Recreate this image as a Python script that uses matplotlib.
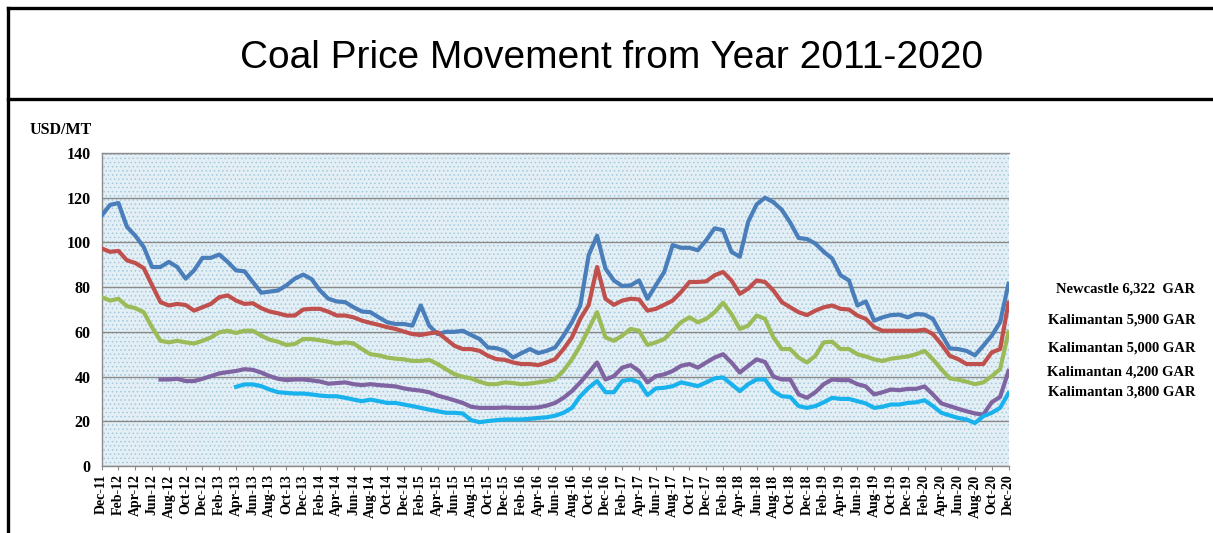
import numpy as np
import pandas as pd
import matplotlib
matplotlib.use("Agg")
import matplotlib.pyplot as plt
from matplotlib.lines import Line2D
from matplotlib.patches import Rectangle

# monthly categories Dec-11 .. Dec-20
months = pd.date_range("2011-12-01", "2020-12-01", freq="MS")
month_labels = [m.strftime("%b-%y") for m in months]

nan = np.nan

newcastle_6322 = [
    112.0, 116.8, 117.6, 107.0, 103.0, 98.0, 89.0, 89.0, 91.3, 89.0,
    83.8, 87.5, 93.1, 93.1, 94.6, 91.3, 87.5, 87.1, 82.3, 77.5,
    78.0, 78.5, 80.8, 83.8, 85.6, 83.6, 78.5, 74.8, 73.6, 73.3,
    71.0, 69.1, 68.8, 66.5, 64.3, 63.5, 63.5, 62.8, 71.8, 62.8,
    59.0, 60.0, 60.0, 60.5, 58.6, 56.8, 53.0, 52.7, 51.5, 48.5,
    50.5, 52.3, 50.5, 51.5, 53.0, 58.3, 64.3, 71.8, 94.3, 103.0,
    88.3, 83.0, 80.5, 80.8, 83.0, 74.8, 80.8, 86.8, 98.8, 97.6,
    97.6, 96.5, 101.0, 106.3, 105.5, 95.8, 93.6, 109.3, 117.0, 120.0,
    118.0, 114.6, 108.9, 102.0, 101.5, 99.5, 95.8, 92.8, 85.3, 83.0,
    71.8, 73.6, 65.0, 66.5, 67.5, 67.7, 66.5, 68.0, 67.7, 65.8,
    59.0, 52.6, 52.3, 51.5, 49.5, 53.8, 58.3, 64.3, 81.5,
]

kalimantan_5900 = [
    97.3, 95.8, 96.2, 92.0, 90.8, 88.5, 80.8, 73.3, 71.8, 72.5,
    72.0, 69.5, 71.0, 72.5, 75.5, 76.3, 74.0, 72.5, 72.8, 70.6,
    69.1, 68.3, 67.3, 67.3, 70.0, 70.3, 70.3, 69.0, 67.3, 67.3,
    66.5, 65.0, 64.0, 63.1, 62.1, 61.3, 60.1, 59.0, 58.6, 59.3,
    59.8, 56.8, 53.8, 52.3, 52.3, 51.5, 49.3, 47.8, 47.5, 46.3,
    45.6, 45.6, 45.1, 46.3, 47.8, 52.3, 57.5, 65.8, 72.0, 89.0,
    74.8, 72.1, 74.0, 74.8, 74.5, 69.5, 70.3, 72.1, 74.0, 77.8,
    82.3, 82.3, 82.6, 85.3, 86.8, 83.0, 77.0, 79.3, 83.0, 82.3,
    78.5, 73.3, 71.0, 68.8, 67.5, 69.5, 71.0, 71.8, 70.3, 70.0,
    67.3, 65.8, 62.1, 60.5, 60.5, 60.5, 60.5, 60.5, 61.0, 59.0,
    54.5, 49.3, 47.8, 45.6, 45.6, 45.6, 50.8, 52.3, 73.0,
]

kalimantan_5000 = [
    75.5, 74.0, 74.8, 71.5, 70.6, 68.8, 62.0, 56.0, 55.3, 56.0,
    55.3, 54.8, 56.0, 57.5, 59.8, 60.5, 59.5, 60.5, 60.5, 58.3,
    56.5, 55.6, 54.1, 54.6, 56.8, 56.8, 56.2, 55.6, 54.8, 55.3,
    54.8, 52.3, 50.0, 49.5, 48.5, 48.0, 47.7, 47.0, 47.0, 47.5,
    45.6, 43.3, 41.1, 39.9, 39.2, 37.7, 36.6, 36.6, 37.4, 37.1,
    36.6, 36.9, 37.4, 38.0, 38.9, 42.6, 47.7, 53.8, 61.3, 68.8,
    57.5, 56.0, 58.3, 61.3, 60.5, 54.1, 55.3, 56.8, 60.5, 64.3,
    66.5, 64.3, 65.8, 68.8, 73.0, 68.0, 61.3, 62.8, 67.3, 65.8,
    57.5, 52.3, 52.3, 48.5, 46.3, 49.3, 55.3, 55.6, 52.3, 52.3,
    50.0, 49.0, 47.7, 47.0, 48.0, 48.5, 49.0, 50.0, 51.5, 47.7,
    43.3, 39.2, 38.6, 37.7, 36.6, 37.4, 40.2, 43.3, 60.0,
]

kalimantan_4200 = [
    nan, nan, nan, nan, nan, nan, nan, 38.7, 38.7, 39.0,
    38.0, 38.0, 39.0, 40.2, 41.4, 42.0, 42.5, 43.3, 43.0, 41.8,
    40.2, 39.0, 38.4, 38.7, 38.7, 38.3, 37.8, 36.8, 37.1, 37.4,
    36.6, 36.2, 36.6, 36.2, 35.9, 35.6, 34.7, 34.1, 33.7, 33.0,
    31.5, 30.5, 29.4, 28.2, 26.5, 26.0, 26.0, 26.0, 26.2, 26.0,
    26.0, 26.0, 26.2, 27.0, 28.2, 30.5, 33.5, 37.4, 41.8, 46.3,
    38.7, 40.2, 44.0, 45.1, 42.5, 37.4, 40.2, 41.0, 42.5, 44.8,
    45.6, 44.0, 46.3, 48.5, 50.0, 46.3, 41.8, 44.8, 47.7, 46.5,
    40.0, 38.7, 38.7, 32.0, 30.5, 33.0, 36.6, 38.7, 38.4, 38.4,
    36.6, 35.6, 32.0, 33.0, 34.2, 33.9, 34.5, 34.5, 35.6, 32.0,
    28.0, 26.8, 25.6, 24.5, 23.5, 23.0, 28.5, 30.9, 42.5,
]

kalimantan_3800 = [
    nan, nan, nan, nan, nan, nan, nan, nan, nan, nan,
    nan, nan, nan, nan, nan, nan, 35.4, 36.5, 36.5, 35.7,
    34.2, 33.0, 32.7, 32.4, 32.4, 32.0, 31.5, 31.2, 31.2, 30.5,
    29.7, 29.0, 29.7, 29.0, 28.2, 28.2, 27.5, 26.8, 26.0, 25.2,
    24.5, 23.8, 23.8, 23.5, 20.5, 19.6, 20.1, 20.5, 20.8, 20.8,
    20.8, 21.1, 21.5, 21.8, 22.5, 23.8, 26.0, 31.2, 35.0, 38.0,
    33.0, 33.0, 38.0, 38.7, 37.4, 31.7, 34.7, 35.0, 35.7, 37.4,
    36.6, 35.7, 37.4, 39.2, 39.6, 36.6, 33.5, 36.6, 38.7, 38.7,
    33.5, 31.2, 30.9, 26.8, 26.0, 26.8, 28.5, 30.5, 30.0, 30.0,
    29.0, 28.0, 26.0, 26.5, 27.5, 27.5, 28.2, 28.5, 29.4, 26.8,
    23.8, 22.6, 21.5, 20.8, 19.2, 22.3, 23.8, 26.0, 32.6,
]

series = [
    ("Newcastle 6,322  GAR", newcastle_6322, "#4a7ebb"),
    ("Kalimantan 5,900 GAR", kalimantan_5900, "#c0504d"),
    ("Kalimantan 5,000 GAR", kalimantan_5000, "#9bbb59"),
    ("Kalimantan 4,200 GAR", kalimantan_4200, "#8064a2"),
    ("Kalimantan 3,800 GAR", kalimantan_3800, "#1ab2ec"),
]
label_y_px = [289, 320, 348, 372, 392]

W, H = 1213, 533
plt.rcParams["hatch.linewidth"] = 0.6
fig = plt.figure(figsize=(W / 100, H / 100), dpi=100)

serif = "Liberation Serif"

# frame around the whole graphic
for (x0, y0, x1, y1) in [(8, 8, W, 8), (8, 8, 8, H), (8, 99, W, 99)]:
    fig.add_artist(Line2D([x0 / W, x1 / W], [1 - y0 / H, 1 - y1 / H],
                          color="black", linewidth=2.4, transform=fig.transFigure))

fig.text(612 / W, 1 - 58 / H, "Coal Price Movement from Year 2011-2020",
         ha="center", va="center", fontsize=28, family="Liberation Sans")

ax = fig.add_axes([101.7 / W, 1 - 466 / H, (1008.5 - 101.7) / W, (466 - 153) / H])
ax.set_facecolor("#e4eff5")
ax.add_patch(Rectangle((0, 0), 1, 1, transform=ax.transAxes, facecolor="none",
                       edgecolor="#a3c9dd", hatch="....", linewidth=0, zorder=0))

x = np.arange(len(months))
for name, vals, color in series:
    ax.plot(x, np.array(vals, dtype=float), color=color, linewidth=3.0,
            solid_joinstyle="round", zorder=3)

ax.set_xlim(0, len(months) - 1)
ax.set_ylim(0, 140)
ax.set_yticks(range(0, 141, 20))
ax.yaxis.grid(True, color="#8a8a8a", linewidth=1.0)
ax.set_axisbelow(True)
ax.spines["right"].set_visible(False)
for side in ["left", "bottom", "top"]:
    ax.spines[side].set_color("#8a8a8a")
    ax.spines[side].set_linewidth(1.0)

ax.set_xticks(x[::2])
ax.set_xticklabels(month_labels[::2], rotation=90, fontsize=10,
                   family=serif, fontweight="bold")
ax.tick_params(axis="x", length=3, color="#8a8a8a", pad=3)
ax.tick_params(axis="y", length=0, pad=8)
for lbl in ax.get_yticklabels():
    lbl.set_family(serif)
    lbl.set_fontweight("bold")
    lbl.set_fontsize(11.5)

fig.text(30 / W, 1 - 130 / H, "USD/MT", ha="left", va="center",
         fontsize=11.5, family=serif, fontweight="bold")

for (name, vals, color), ypx in zip(series, label_y_px):
    fig.text(1195 / W, 1 - ypx / H, name, ha="right", va="center",
             fontsize=10.5, family=serif, fontweight="bold")

fig.savefig("out.png", dpi=100)
